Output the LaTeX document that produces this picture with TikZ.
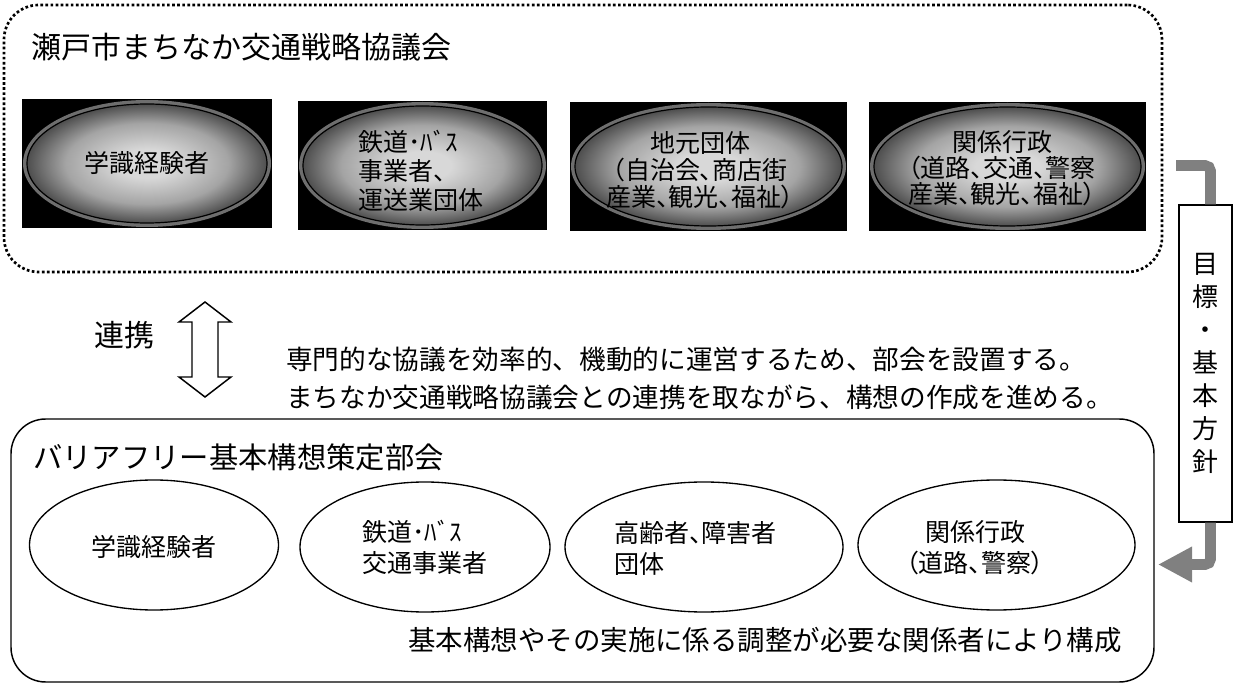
\documentclass[tikz,border=0pt]{standalone}
\usepackage{fontspec}
\newfontfamily\jp{Noto Sans CJK JP}
\newfontfamily\jpp[RawFeature=+palt]{Noto Sans CJK JP}
\usetikzlibrary{arrows.meta,shapes.geometric}
\definecolor{shL}{HTML}{D8D8D8}
\definecolor{shM}{HTML}{A4A4A4}
\definecolor{shD}{HTML}{4E4E4E}
\definecolor{ringc}{HTML}{6E6E6E}
\definecolor{hookc}{HTML}{808080}
\pgfdeclareradialshading{ellshade}{\pgfpoint{0bp}{0bp}}{color(0bp)=(shL); color(6bp)=(shL); color(17bp)=(shM); color(25bp)=(shD); color(50bp)=(shD)}
\begin{document}
\begin{tikzpicture}[x=0.75pt,y=-0.75pt,
  blackbox/.style={rectangle, fill=black, draw=none, inner sep=0pt, minimum height=96.75pt},
  ring/.style={ellipse, fill=ringc, draw=none, inner sep=0pt, minimum height=95.25pt},
  shadedell/.style={ellipse, shade, shading=ellshade, draw=black, line width=0.9pt, inner sep=0pt, minimum height=89.25pt},
  plainell/.style={ellipse, draw=black, line width=1pt, fill=white, inner sep=0pt, minimum height=97.5pt},
  etext/.style={font=\jpp\fontsize{18.75pt}{21pt}\selectfont, inner sep=0pt},
  bigtext/.style={font=\jp\fontsize{22.5pt}{27pt}\selectfont, inner sep=0pt, anchor=west},
  desctext/.style={font=\jp\fontsize{20pt}{28.5pt}\selectfont, inner sep=0pt, anchor=west, align=left},
  dotbox/.style={rectangle, draw=black, line width=2pt, dash pattern=on 2pt off 1.8pt, rounded corners=26pt, inner sep=0pt},
  solidbox/.style={rectangle, draw=black, line width=1.1pt, rounded corners=26pt, inner sep=0pt},
  goalbox/.style={rectangle, draw=black, line width=1.1pt, fill=white, inner sep=0pt, align=center, font=\jp\fontsize{19.5pt}{24.75pt}\selectfont},
  hook/.style={draw=hookc, line width=8pt, rounded corners=4pt},
  dblarrow/.style={draw=black, line width=1.1pt, fill=white, line join=miter}
]
\useasboundingbox (0,0) rectangle (1236,684);

% upper council (dotted)
\node[dotbox, minimum width=868.5pt, minimum height=200.25pt] (council) at (583,138.5) {};
\node[bigtext] (ctitle) at (31,47) {瀬戸市まちなか交通戦略協議会};

% top members
\node[blackbox, minimum width=187.5pt] (b1) at (147,163.5) {};
\node[ring, minimum width=186pt] (r1) at (b1) {};
\node[shadedell, minimum width=180pt] (e1) at (b1) {};
\node[etext] (t1) at (147,163) {学識経験者};

\node[blackbox, minimum width=186.75pt] (b2) at (422.5,165.5) {};
\node[ring, minimum width=185.25pt] (r2) at (b2) {};
\node[shadedell, minimum width=179.25pt] (e2) at (b2) {};
\node[etext, anchor=west, align=left, font=\jpp\fontsize{18.75pt}{21.75pt}\selectfont] (t2) at (358,171) {鉄道･ﾊﾞｽ\\事業者、\\運送業団体};

\node[blackbox, minimum width=207.75pt] (b3) at (708.5,166.5) {};
\node[ring, minimum width=206.25pt] (r3) at (b3) {};
\node[shadedell, minimum width=200.25pt] (e3) at (b3) {};
\node[etext, align=center, font=\jpp\fontsize{18.75pt}{20.25pt}\selectfont] (t3) at (700,170) {地元団体\\（自治会、商店街\\産業、観光、福祉）};

\node[blackbox, minimum width=207.75pt] (b4) at (1007.5,166.5) {};
\node[ring, minimum width=206.25pt] (r4) at (b4) {};
\node[shadedell, minimum width=200.25pt] (e4) at (b4) {};
\node[etext, align=center, font=\jpp\fontsize{18.75pt}{19.5pt}\selectfont] (t4) at (1002,168) {関係行政\\（道路、交通、警察\\産業、観光、福祉）};

% link
\node[bigtext] (renkei) at (94,335) {連携};
\path[dblarrow] (205,302) -- (231,322) -- (218,322) -- (218,377) -- (231,377) -- (205,397) -- (179,377) -- (192,377) -- (192,322) -- (179,322) -- cycle;
\node[desctext] (desc) at (286,378) {専門的な協議を効率的、機動的に運営するため、部会を設置する。\\まちなか交通戦略協議会との連携を取ながら、構想の作成を進める。};

% lower committee
\node[solidbox, minimum width=857.25pt, minimum height=197.25pt] (bukai) at (582.5,550.5) {};
\node[bigtext, font=\jp\fontsize{22pt}{27pt}\selectfont] (btitle) at (33,457) {バリアフリー基本構想策定部会};

\node[plainell, minimum width=186.75pt] (f1) at (154,545) {};
\node[etext] (u1) at (154,547) {学識経験者};
\node[plainell, minimum width=187.5pt] (f2) at (425,547) {};
\node[etext, anchor=west, align=left, font=\jpp\fontsize{18.75pt}{23.25pt}\selectfont] (u2) at (362,547.5) {鉄道･ﾊﾞｽ\\交通事業者};
\node[plainell, minimum width=208.5pt] (f3) at (704,547) {};
\node[etext, anchor=west, align=left, font=\jpp\fontsize{18.75pt}{23.25pt}\selectfont] (u3) at (614,548) {高齢者、障害者\\団体};
\node[plainell, minimum width=207.75pt] (f4) at (996.5,545) {};
\node[etext, align=center, font=\jpp\fontsize{18.75pt}{23.25pt}\selectfont] (u4) at (975,547.5) {関係行政\\（道路、警察）};

\node[desctext, font=\jp\fontsize{20.6pt}{24pt}\selectfont] (note) at (408,640) {基本構想やその実施に係る調整が必要な関係者により構成};

% goal box and hooks
\node[goalbox, minimum width=39.75pt, minimum height=237.75pt] (goal) at (1205.5,363.5) {目\\標\\・\\基\\本\\方\\針};
\coordinate (hs) at (1176,165.5);
\coordinate (he) at (1158,564.5);
\draw[hook] (hs) -| ([xshift=3.75pt]goal.north);
\draw[hook, -{Triangle[length=25.5pt,width=25pt]}] ([xshift=3.75pt]goal.south) |- (he);
\end{tikzpicture}
\end{document}
